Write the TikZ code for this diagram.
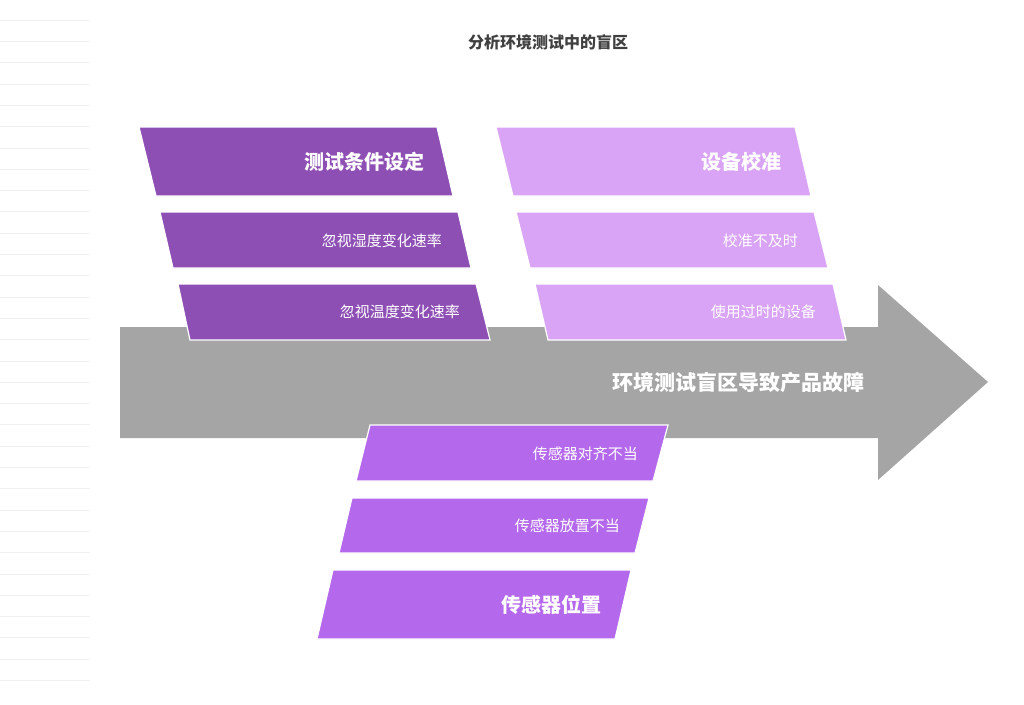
\documentclass[tikz,border=0pt]{standalone}
\usepackage{fontspec}
\setmainfont{Noto Sans CJK SC}
\begin{document}
\begin{tikzpicture}[x=1pt,y=-1pt,
  shp/.style={draw=white,line width=1.2pt},
  hd/.style={font=\bfseries\fontsize{20}{24}\selectfont,text=white,anchor=east,inner sep=0},
  it/.style={font=\fontsize{15}{18}\selectfont,text=white,anchor=east,inner sep=0}]
\definecolor{dp}{HTML}{8E4FB5}\definecolor{lp}{HTML}{D9A4F5}\definecolor{mp}{HTML}{B468EB}\definecolor{ag}{HTML}{A5A5A5}
\useasboundingbox (0,0) rectangle (1024,704);
\fill[white] (0,0) rectangle (1024,704);
\foreach \y in {20,41.3,...,690} \draw[black!6,line width=0.6pt] (0,\y) -- (90,\y);
\node[font=\bfseries\fontsize{16}{20}\selectfont,text=black!75] (title) at (548,42) {分析环境测试中的盲区};
% arrow
\fill[ag] (120,327) -- (878,327) -- (878,285) -- (988,382) -- (878,480) -- (878,438) -- (120,438) -- cycle;
\node[font=\bfseries\fontsize{21}{24}\selectfont,text=white] (main) at (738,383) {环境测试盲区导致产品故障};
% left column
\fill[dp,shp] (139,127) -- (437,127) -- (453,196) -- (156,196) -- cycle;
\node[hd] (h1) at (425,162) {测试条件设定};
\fill[dp,shp] (160,212) -- (458,212) -- (471,268) -- (173,268) -- cycle;
\node[it] (a1) at (442,241) {忽视湿度变化速率};
\fill[dp,shp] (178,284) -- (476,284) -- (490,340) -- (190,340) -- cycle;
\node[it] (a2) at (460,312) {忽视温度变化速率};
% right column
\fill[lp,shp] (496,127) -- (795,127) -- (811,196) -- (513,196) -- cycle;
\node[hd] (h2) at (782,162) {设备校准};
\fill[lp,shp] (516,212) -- (814,212) -- (828,268) -- (530,268) -- cycle;
\node[it] (b1) at (798,241) {校准不及时};
\fill[lp,shp] (535,284) -- (833,284) -- (846,340) -- (548,340) -- cycle;
\node[it] (b2) at (816,312) {使用过时的设备};
% bottom
\fill[mp,shp] (370,425) -- (668,425) -- (653,481) -- (356,481) -- cycle;
\node[it] (c1) at (638,454) {传感器对齐不当};
\fill[mp,shp] (352,498) -- (649,498) -- (635,553) -- (339,553) -- cycle;
\node[it] (c2) at (620,526) {传感器放置不当};
\fill[mp,shp] (333,570) -- (631,570) -- (615,639) -- (317,639) -- cycle;
\node[hd] (h3) at (602,605) {传感器位置};
\end{tikzpicture}
\end{document}
